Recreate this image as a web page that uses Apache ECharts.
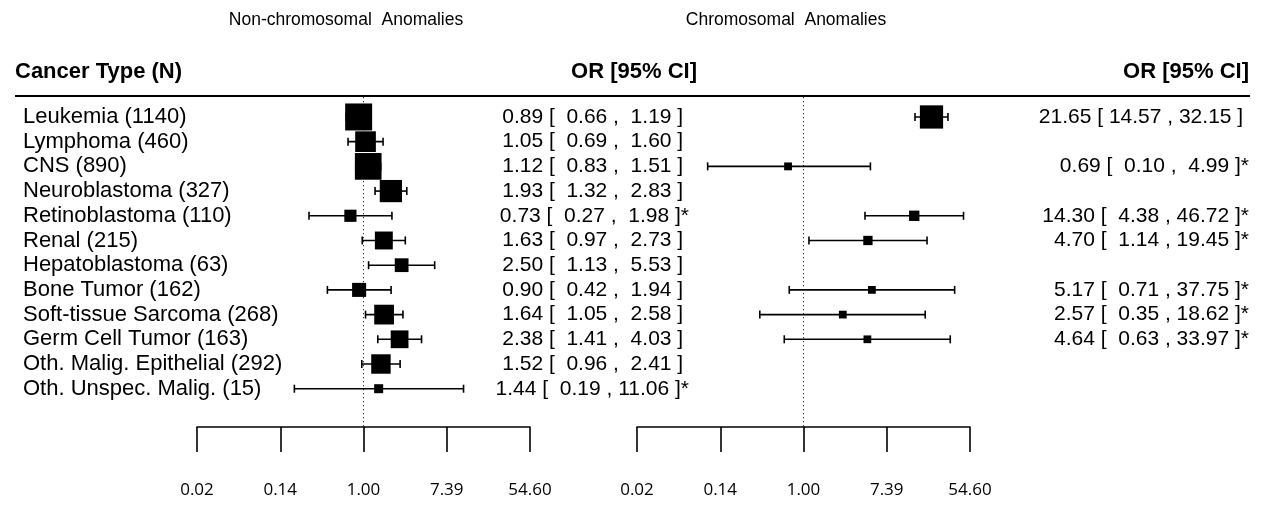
<!DOCTYPE html>
<html><head><meta charset="utf-8">
<script src="https://cdn.jsdelivr.net/npm/echarts@6/dist/echarts.min.js"></script>
<style>html,body{margin:0;padding:0;background:#fff}#chart{width:1265px;height:516px}</style>
</head><body><div id="chart"></div>
<script>
// ---- data ----
const categories = ['Leukemia (1140)', 'Lymphoma (460)', 'CNS (890)', 'Neuroblastoma (327)', 'Retinoblastoma (110)', 'Renal (215)', 'Hepatoblastoma (63)', 'Bone Tumor (162)', 'Soft-tissue Sarcoma (268)', 'Germ Cell Tumor (163)', 'Oth. Malig. Epithelial (292)', 'Oth. Unspec. Malig. (15)'];
const nonChromOR    = [0.89, 1.05, 1.12, 1.93, 0.73, 1.63, 2.50, 0.90, 1.64, 2.38, 1.52, 1.44];
const nonChromLower = [0.66, 0.69, 0.83, 1.32, 0.27, 0.97, 1.13, 0.42, 1.05, 1.41, 0.96, 0.19];
const nonChromUpper = [1.19, 1.60, 1.51, 2.83, 1.98, 2.73, 5.53, 1.94, 2.58, 4.03, 2.41, 11.06];
const nonChromFlag  = [0, 0, 0, 0, 1, 0, 0, 0, 0, 0, 0, 1];
const chromOR    = [21.65, null, 0.69, null, 14.30, 4.70, null, 5.17, 2.57, 4.64, null, null];
const chromLower = [14.57, null, 0.10, null, 4.38, 1.14, null, 0.71, 0.35, 0.63, null, null];
const chromUpper = [32.15, null, 4.99, null, 46.72, 19.45, null, 37.75, 18.62, 33.97, null, null];
const chromFlag  = [0, 0, 1, 0, 1, 1, 0, 1, 1, 1, 0, 0];
const tickLabels = ['0.02', '0.14', '1.00', '7.39', '54.60']; // at ln(OR) = -4, -2, 0, 2, 4
const panelTitles = ['Non-chromosomal  Anomalies', 'Chromosomal  Anomalies'];
const headerLeft = 'Cancer Type (N)';
const headerRight = 'OR [95% CI]';

// ---- styling constants ----
const FONT = '"Liberation Sans", Arial, sans-serif';
const pad5 = v => { const s = v.toFixed(2); return s.length < 5 ? ' ' + s : s; };
const fmt = (e, l, u, f) => e.toFixed(2) + ' [ ' + pad5(l) + ' , ' + pad5(u) + ' ]' + (f ? '*' : ' ');

function buildData(or, lo, hi, fl) {
  const d = [];
  for (let i = 0; i < or.length; i++) {
    if (or[i] == null) continue;
    d.push([i, or[i], lo[i], hi[i], fl[i]]);
  }
  return d;
}
const leftData = buildData(nonChromOR, nonChromLower, nonChromUpper, nonChromFlag);
const rightData = buildData(chromOR, chromLower, chromUpper, chromFlag);

function precisionRange(data) {
  const w = data.map(r => 3.92 / (Math.log(r[3]) - Math.log(r[2])));
  return [Math.min(...w), Math.max(...w)];
}

function makeRender(data, baseSize, annotX) {
  const [wmin, wmax] = precisionRange(data);
  return function (params, api) {
    const i = api.value(0);
    const e = api.value(1), l = api.value(2), u = api.value(3), f = api.value(4);
    const pL = api.coord([Math.log(l), i]);
    const pU = api.coord([Math.log(u), i]);
    const pE = api.coord([Math.log(e), i]);
    const y = pE[1];
    const w = 3.92 / (Math.log(u) - Math.log(l));
    const s = baseSize * (0.5 + (w - wmin) / (wmax - wmin));
    const st = { stroke: '#000', lineWidth: 1.6 };
    const children = [
      { type: 'line', shape: { x1: pL[0], y1: y, x2: pU[0], y2: y }, style: st },
      { type: 'line', shape: { x1: pL[0], y1: y - 4, x2: pL[0], y2: y + 4 }, style: st },
      { type: 'line', shape: { x1: pU[0], y1: y - 4, x2: pU[0], y2: y + 4 }, style: st },
      { type: 'rect', shape: { x: pE[0] - s / 2, y: y - s / 2, width: s, height: s }, style: { fill: '#000' } },
      { type: 'text', style: { x: annotX, y: y, text: fmt(e, l, u, f), font: '21px ' + FONT, fill: '#000', align: 'right', verticalAlign: 'middle' } }
    ];
    return { type: 'group', children: children };
  };
}

function labelRender(params, api) {
  const i = api.value(0);
  const y = api.coord([0, i])[1];
  return { type: 'text', style: { x: 23, y: y, text: categories[i], font: '22px ' + FONT, fill: '#000', align: 'left', verticalAlign: 'middle' } };
}

const rowMin = -0.8, rowMax = 12.55;
const gridTop = 97.2, gridBottom = 89;

function xAxisCfg(idx) {
  return {
    type: 'value', gridIndex: idx, min: -4, max: 4, interval: 2, position: 'bottom',
    axisLine: { show: true, onZero: false, lineStyle: { color: '#000', width: 1.6 } },
    axisTick: { show: true, inside: false, length: 25, lineStyle: { color: '#000', width: 1.6 } },
    axisLabel: { margin: 55, fontFamily: '"Open Sans", sans-serif', fontSize: 17, color: '#000',
      formatter: v => tickLabels[Math.round((v + 4) / 2)] },
    splitLine: { show: false }
  };
}
function yAxisCfg(idx) {
  return { type: 'value', gridIndex: idx, min: rowMin, max: rowMax, inverse: true, show: false, splitLine: { show: false } };
}
const refLine = {
  silent: true, symbol: 'none', label: { show: false },
  lineStyle: { type: [1, 3], color: '#000', width: 1 },
  data: [{ xAxis: 0 }]
};

const option = {
  animation: false,
  backgroundColor: '#fff',
  grid: [
    { left: 197, width: 333, top: gridTop, bottom: gridBottom },
    { left: 637, width: 333, top: gridTop, bottom: gridBottom }
  ],
  xAxis: [xAxisCfg(0), xAxisCfg(1)],
  yAxis: [yAxisCfg(0), yAxisCfg(1)],
  graphic: [
    { type: 'text', x: 346, y: 20, style: { text: panelTitles[0], font: '17.5px ' + FONT, fill: '#000', align: 'center', verticalAlign: 'middle' } },
    { type: 'text', x: 786, y: 20, style: { text: panelTitles[1], font: '17.5px ' + FONT, fill: '#000', align: 'center', verticalAlign: 'middle' } },
    { type: 'text', x: 15, y: 72, style: { text: headerLeft, font: 'bold 22px ' + FONT, fill: '#000', verticalAlign: 'middle' } },
    { type: 'text', x: 697, y: 72, style: { text: headerRight, font: 'bold 22px ' + FONT, fill: '#000', align: 'right', verticalAlign: 'middle' } },
    { type: 'text', x: 1249, y: 72, style: { text: headerRight, font: 'bold 22px ' + FONT, fill: '#000', align: 'right', verticalAlign: 'middle' } },
    { type: 'line', shape: { x1: 15, y1: 96, x2: 1250, y2: 96 }, style: { stroke: '#000', lineWidth: 2 } }
  ],
  series: [
    { type: 'custom', xAxisIndex: 0, yAxisIndex: 0, data: categories.map((c, i) => [i]), renderItem: labelRender, silent: true },
    { type: 'custom', xAxisIndex: 0, yAxisIndex: 0, data: leftData, renderItem: makeRender(leftData, 18, 689), markLine: refLine, silent: true },
    { type: 'custom', xAxisIndex: 1, yAxisIndex: 1, data: rightData, renderItem: makeRender(rightData, 15.5, 1249), markLine: refLine, silent: true }
  ]
};

const chart = echarts.init(document.getElementById('chart'), null, { renderer: 'canvas' });
chart.setOption(option);
</script>
</body></html>
